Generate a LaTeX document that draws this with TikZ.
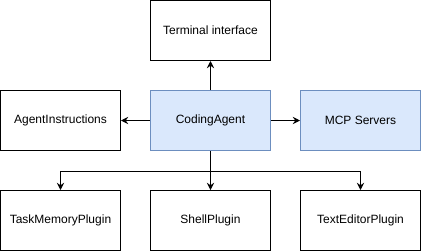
\documentclass[tikz,border=0pt]{standalone}
\usepackage{fontspec}
\setmainfont{Liberation Sans}
\usepackage{xcolor}
\usepackage{tikz}
\usetikzlibrary{arrows.meta,positioning}

\definecolor{agentfill}{HTML}{DAE8FC}
\definecolor{agentline}{HTML}{6C8EBF}

\begin{document}
\begin{tikzpicture}[auto, node distance=112.5pt,
  >={Stealth[length=5.5pt,width=5.5pt,inset=2pt]},
  font=\fontsize{9pt}{11pt}\selectfont, line width=.75pt]
\tikzset{block/.style = {draw, rectangle, minimum height=45pt,
  minimum width=90pt, inner sep=0pt}}
\tikzset{agent/.style = {block, fill=agentfill, draw=agentline}}

  \useasboundingbox (-157.875pt,-97.875pt) rectangle (157.875pt,90.375pt);

  % centre row
  \node[agent] (coding){CodingAgent};
  \node[block, left of=coding] (instructions){AgentInstructions};
  \node[agent, right of=coding] (mcp){MCP Servers};

  % top and bottom rows
  \node[block, node distance=67.5pt, above of=coding] (terminal){Terminal interface};
  \node[block, node distance=75pt, below of=coding] (shell){ShellPlugin};
  \node[block, left of=shell] (taskmemory){TaskMemoryPlugin};
  \node[block, right of=shell] (texteditor){TextEditorPlugin};

  \draw[->] (coding) -- (terminal);
  \draw[->] (coding) -- (instructions);
  \draw[->] (coding) -- (mcp);

  % plugins hang off one split
  \draw[->] (coding) -- (shell);
  \draw[->] (coding.south) -- ++(0,-15pt) -| (taskmemory.north);
  \draw[->] (coding.south) -- ++(0,-15pt) -| (texteditor.north);

\end{tikzpicture}
\end{document}
